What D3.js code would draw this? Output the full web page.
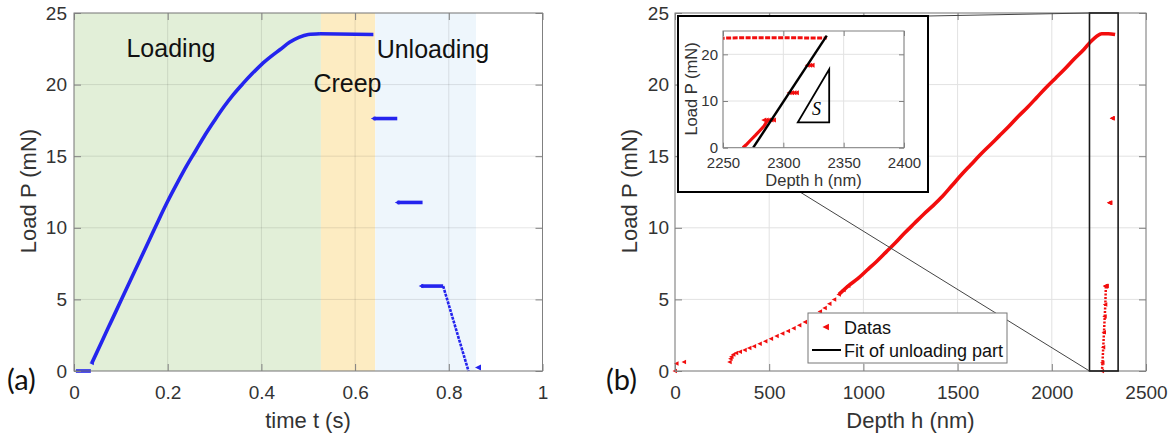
<!DOCTYPE html>
<html><head><meta charset="utf-8">
<script src="https://cdn.jsdelivr.net/npm/d3@7"></script>
<style>body{margin:0;background:#fff}</style>
</head><body><svg id="c" width="1174" height="438"></svg>
<script>
// ================= DATA =================
// Panel (a): load vs time
const xTicksA = [0, 0.2, 0.4, 0.6, 0.8, 1];
const xTickLabelsA = ["0", "0.2", "0.4", "0.6", "0.8", "1"];
const yTicks = [0, 5, 10, 15, 20, 25];
const yTickLabels = ["0", "5", "10", "15", "20", "25"];
const phaseNames = ["Loading", "Creep", "Unloading"];
const phaseStart = [0, 0.527, 0.643];
const phaseEnd = [0.527, 0.643, 0.858];
const phaseLabelT = [0.112, 0.511, 0.646];
const phaseLabelP = [21.9, 19.5, 21.85];

const timeInit = [0.004, 0.036];
const loadInit = [0, 0];
const timeLoading = [0.038, 0.06, 0.08, 0.10, 0.12, 0.14, 0.16, 0.18, 0.20, 0.22, 0.24, 0.26, 0.28, 0.30, 0.32, 0.34, 0.36, 0.38, 0.40, 0.42, 0.44, 0.46, 0.48, 0.50, 0.525];
const loadLoading = [0.55, 2.1, 3.5, 4.9, 6.3, 7.7, 9.1, 10.5, 11.85, 13.1, 14.3, 15.4, 16.5, 17.5, 18.45, 19.3, 20.05, 20.75, 21.4, 21.95, 22.45, 22.95, 23.3, 23.5, 23.55];
const timeCreep = [0.525, 0.639];
const loadCreep = [23.55, 23.5];
const timeHold1 = [0.639, 0.690];
const loadHold1 = [17.63, 17.63];
const timeHold2 = [0.690, 0.744];
const loadHold2 = [11.77, 11.77];
const timeHold3 = [0.741, 0.788];
const loadHold3 = [5.93, 5.93];
const timeUnload = [0.788, 0.842];
const loadUnload = [5.93, 0];
const timeTail = [0.863];
const loadTail = [0.25];

// Panel (b): load vs depth
const xTicksB = [0, 500, 1000, 1500, 2000, 2500];
const xTickLabelsB = ["0", "500", "1000", "1500", "2000", "2500"];
const depthOrigin = [0, 8, 48];
const loadOrigin = [0, 0.53, 0.63];
const depthSparse = [290, 295, 300, 310, 325, 345, 370, 395, 420, 450, 480, 510, 540, 570, 600, 630, 660, 690, 720, 745, 770, 795, 820, 845, 870, 895, 920];
const loadSparse = [0.62, 0.85, 1.0, 1.15, 1.25, 1.35, 1.47, 1.6, 1.73, 1.9, 2.07, 2.25, 2.44, 2.62, 2.8, 2.98, 3.2, 3.42, 3.68, 3.9, 4.15, 4.4, 4.7, 5.0, 5.35, 5.65, 5.95];
const depthDense = [870, 920, 970, 1020, 1070, 1120, 1170, 1220, 1270, 1320, 1370, 1420, 1470, 1520, 1570, 1620, 1670, 1720, 1770, 1820, 1870, 1920, 1970, 2020, 2070, 2120, 2170, 2210, 2240, 2265, 2300, 2336];
const loadDense = [5.35, 5.95, 6.45, 7.05, 7.65, 8.3, 8.95, 9.65, 10.3, 10.95, 11.55, 12.2, 12.95, 13.7, 14.4, 15.1, 15.75, 16.4, 17.05, 17.75, 18.4, 19.1, 19.8, 20.45, 21.1, 21.8, 22.45, 23.05, 23.4, 23.55, 23.55, 23.5];
const depthHolds = [2320, 2322, 2324, 2305, 2307, 2309, 2311, 2284, 2286, 2288, 2290, 2292];
const loadHolds = [17.65, 17.65, 17.65, 11.75, 11.75, 11.75, 11.75, 5.93, 5.93, 5.93, 5.93, 5.93];
const depthUnload = [2287, 2284, 2281, 2277, 2273, 2269, 2266.5];
const loadUnloadB = [5.9, 4.64, 3.8, 2.7, 1.65, 0.58, 0];
const fitDepth = [2275, 2336];
const fitLoad = [0, 24];
const zoomDepth = [2200, 2352];
const zoomLoad = [0, 25];
const insetXTicks = [2250, 2300, 2350, 2400];
const insetYTicks = [0, 10, 20];
const slopeDepth = [2312, 2338, 2338];
const slopeLoad = [5.44, 5.44, 16.8];
const legendLabels = ["Datas", "Fit of unloading part"];

// ================= DRAW =================
const FONT = '"Liberation Sans", Arial, Helvetica, sans-serif';
const AX = "#808080", TXT = "#333333", GRID = "#e2e2e2";
const BLUE = "#2424ee", RED = "#f20d0d";
const svg = d3.select("#c");
svg.append("rect").attr("width", 1174).attr("height", 438).attr("fill", "#fff");

function tri(s) { return `M${-s * 0.55},0L${s * 0.45},${-s * 0.5}L${s * 0.45},${s * 0.5}Z`; }
const pts = (a, b) => d3.zip(a, b);

function grid(g, x, y, xt, yt, color) {
  const [y0, y1] = y.range(), [x0, x1] = x.range();
  g.append("g").selectAll("line").data(xt).join("line")
    .attr("x1", d => x(d)).attr("x2", d => x(d)).attr("y1", y0).attr("y2", y1)
    .attr("stroke", color).attr("stroke-width", 1);
  g.append("g").selectAll("line").data(yt).join("line")
    .attr("y1", d => y(d)).attr("y2", d => y(d)).attr("x1", x0).attr("x2", x1)
    .attr("stroke", color).attr("stroke-width", 1);
}

function axes(g, x, y, xt, xl, yt, yl, o) {
  const [y0, y1] = y.range(), [x0, x1] = x.range();
  const style = (sel) => {
    sel.select(".domain").remove();
    sel.selectAll("line").attr("stroke", o.axColor);
    sel.selectAll("text").attr("font-size", o.fs).attr("fill", TXT).attr("font-family", FONT);
  };
  g.append("g").attr("transform", `translate(0,${y0})`)
    .call(d3.axisBottom(x).tickValues(xt).tickFormat((d, i) => xl[i]).tickSize(-o.tk).tickPadding(o.padX)).call(style);
  g.append("g").attr("transform", `translate(${x0},0)`)
    .call(d3.axisLeft(y).tickValues(yt).tickFormat((d, i) => yl[i]).tickSize(-o.tk).tickPadding(o.padY)).call(style);
  g.append("g").attr("transform", `translate(0,${y1})`)
    .call(d3.axisTop(x).tickValues(xt).tickFormat("").tickSize(-o.tk)).call(style);
  g.append("g").attr("transform", `translate(${x1},0)`)
    .call(d3.axisRight(y).tickValues(yt).tickFormat("").tickSize(-o.tk)).call(style);
  g.append("rect").attr("x", x0).attr("y", y1).attr("width", x1 - x0).attr("height", y0 - y1)
    .attr("fill", "none").attr("stroke", o.axColor).attr("stroke-width", 1);
}

// ---------- Panel (a) ----------
const xA = d3.scaleLinear().domain([0, 1]).range([74, 542.5]);
const yA = d3.scaleLinear().domain([0, 25]).range([371, 13]);
const gA = svg.append("g");
const phaseColors = ["#e2efd8", "#fdecc2", "#eef6fc"];
gA.append("g").selectAll("rect").data(phaseStart).join("rect")
  .attr("x", (d, i) => xA(d)).attr("width", (d, i) => xA(phaseEnd[i]) - xA(d))
  .attr("y", yA(25)).attr("height", yA(0) - yA(25)).attr("fill", (d, i) => phaseColors[i]);
grid(gA, xA, yA, xTicksA, yTicks, "rgba(0,0,0,0.10)");

const lineA = d3.line().x(d => xA(d[0])).y(d => yA(d[1])).curve(d3.curveMonotoneX);
const blueSegs = [[timeInit, loadInit], [timeLoading, loadLoading], [timeCreep, loadCreep],
  [timeHold1, loadHold1], [timeHold2, loadHold2], [timeHold3, loadHold3]];
blueSegs.forEach(([t, p]) => {
  gA.append("path").attr("d", lineA(pts(t, p))).attr("fill", "none")
    .attr("stroke", BLUE).attr("stroke-width", 3.6).attr("stroke-linecap", "butt");
});
gA.append("path").attr("d", lineA(pts(timeUnload, loadUnload))).attr("fill", "none")
  .attr("stroke", BLUE).attr("stroke-width", 2.6).attr("stroke-dasharray", "3,1");
[[timeHold1, loadHold1], [timeHold2, loadHold2], [timeHold3, loadHold3], [timeLoading, loadLoading]].forEach(([t, p]) => {
  gA.append("path").attr("d", tri(4.5)).attr("transform", `translate(${xA(t[0])},${yA(p[0])})`).attr("fill", BLUE);
});
gA.selectAll(".tail").data(pts(timeTail, loadTail)).join("path").attr("d", tri(6))
  .attr("transform", d => `translate(${xA(d[0])},${yA(d[1])})`).attr("fill", BLUE);

axes(gA, xA, yA, xTicksA, xTickLabelsA, yTicks, yTickLabels, { fs: 19, tk: 7, padX: 15, padY: 7, axColor: AX });

gA.selectAll(".ph").data(phaseNames).join("text")
  .attr("x", (d, i) => xA(phaseLabelT[i])).attr("y", (d, i) => yA(phaseLabelP[i]))
  .attr("font-family", FONT).attr("font-size", 25).attr("fill", "#111").text(d => d);

gA.append("text").attr("x", 308).attr("y", 428).attr("text-anchor", "middle")
  .attr("font-family", FONT).attr("font-size", 22).attr("fill", TXT).text("time t (s)");
gA.append("text").attr("transform", "translate(36,191) rotate(-90)").attr("text-anchor", "middle")
  .attr("font-family", FONT).attr("font-size", 22).attr("fill", TXT).text("Load P (mN)");
gA.append("text").attr("x", 7).attr("y", 390).attr("font-family", "Lato, 'Open Sans', sans-serif")
  .attr("font-size", 29).attr("fill", "#111").text("(a)");

// ---------- Panel (b) ----------
const xB = d3.scaleLinear().domain([0, 2500]).range([675, 1146]);
const yB = d3.scaleLinear().domain([0, 25]).range([371, 13]);
const gB = svg.append("g");
grid(gB, xB, yB, xTicksB, yTicks, GRID);

const lineB = d3.line().x(d => xB(d[0])).y(d => yB(d[1])).curve(d3.curveMonotoneX);
gB.append("path").attr("d", lineB(pts(depthDense, loadDense))).attr("fill", "none")
  .attr("stroke", RED).attr("stroke-width", 3.6).attr("stroke-linejoin", "round");
const markerSets = [[depthOrigin, loadOrigin], [depthSparse, loadSparse], [depthHolds, loadHolds], [depthUnload, loadUnloadB]];
markerSets.forEach(([h, p]) => {
  gB.append("g").selectAll("path").data(pts(h, p)).join("path").attr("d", tri(4.5))
    .attr("transform", d => `translate(${xB(d[0])},${yB(d[1])})`).attr("fill", RED);
});
gB.append("path").attr("d", d3.line().x(d => xB(d[0])).y(d => yB(d[1]))(pts(depthUnload, loadUnloadB))).attr("fill", "none")
  .attr("stroke", RED).attr("stroke-width", 2.5).attr("stroke-dasharray", "2,1.5");

axes(gB, xB, yB, xTicksB, xTickLabelsB, yTicks, yTickLabels, { fs: 19, tk: 7, padX: 15, padY: 6, axColor: AX });

// zoom rectangle
gB.append("rect").attr("x", xB(zoomDepth[0])).attr("y", yB(zoomLoad[1]))
  .attr("width", xB(zoomDepth[1]) - xB(zoomDepth[0])).attr("height", yB(zoomLoad[0]) - yB(zoomLoad[1]))
  .attr("fill", "none").attr("stroke", "#1a1a1a").attr("stroke-width", 1.6);

// inset box layout
const inBox = { x0: 678, y0: 16, x1: 928, y1: 192 };
gB.append("line").attr("x1", inBox.x1).attr("y1", inBox.y0).attr("x2", xB(zoomDepth[0])).attr("y2", yB(zoomLoad[1]))
  .attr("stroke", "#444").attr("stroke-width", 1);
gB.append("line").attr("x1", 800).attr("y1", inBox.y1).attr("x2", xB(zoomDepth[0])).attr("y2", yB(zoomLoad[0]))
  .attr("stroke", "#444").attr("stroke-width", 1);

// legend
const lg = gB.append("g");
lg.append("rect").attr("x", 808).attr("y", 313).attr("width", 199).attr("height", 50)
  .attr("fill", "#fff").attr("stroke", "#777").attr("stroke-width", 1);
lg.append("path").attr("d", tri(6.5)).attr("transform", "translate(826,327)").attr("fill", RED);
lg.append("line").attr("x1", 812).attr("x2", 841).attr("y1", 350).attr("y2", 350).attr("stroke", "#000").attr("stroke-width", 2);
lg.selectAll("text").data(legendLabels).join("text").attr("x", 844).attr("y", (d, i) => 334 + i * 23)
  .attr("font-family", FONT).attr("font-size", 18).attr("fill", "#111").text(d => d);

// inset
const gI = svg.append("g");
gI.append("rect").attr("x", inBox.x0).attr("y", inBox.y0).attr("width", inBox.x1 - inBox.x0).attr("height", inBox.y1 - inBox.y0)
  .attr("fill", "#fff").attr("stroke", "#000").attr("stroke-width", 2);
const xI = d3.scaleLinear().domain([2250, 2400]).range([723, 904]);
const yI = d3.scaleLinear().domain([0, 25]).range([147.7, 31]);
grid(gI, xI, yI, insetXTicks, insetYTicks, GRID);
svg.append("defs").append("clipPath").attr("id", "clipI").append("rect")
  .attr("x", 723).attr("y", 31).attr("width", 181).attr("height", 116.7);
const gID = gI.append("g").attr("clip-path", "url(#clipI)");
const lineI = d3.line().x(d => xI(d[0])).y(d => yI(d[1]));
gID.append("path").attr("d", lineI(pts(depthDense, loadDense))).attr("fill", "none")
  .attr("stroke", RED).attr("stroke-width", 3).attr("stroke-dasharray", "5,1.5");
gID.append("path").attr("d", lineI(pts(depthUnload, loadUnloadB))).attr("fill", "none")
  .attr("stroke", RED).attr("stroke-width", 3.2);
gID.append("g").selectAll("path").data(pts(depthHolds, loadHolds)).join("path").attr("d", tri(5))
  .attr("transform", d => `translate(${xI(d[0])},${yI(d[1])})`).attr("fill", RED);
gID.append("path").attr("d", lineI(pts(fitDepth, fitLoad))).attr("fill", "none")
  .attr("stroke", "#000").attr("stroke-width", 2.4);
gI.append("path").attr("d", lineI(pts(slopeDepth, slopeLoad)) + "Z").attr("fill", "none")
  .attr("stroke", "#000").attr("stroke-width", 1.8);
gI.append("text").attr("x", xI(2327.5)).attr("y", yI(6.9)).attr("text-anchor", "middle")
  .attr("font-family", "'Liberation Serif', 'DejaVu Serif', serif").attr("font-style", "italic")
  .attr("font-size", 18).attr("fill", "#000").text("S");
axes(gI, xI, yI, insetXTicks, insetXTicks.map(String), insetYTicks, insetYTicks.map(String),
  { fs: 15, tk: 5, padX: 10, padY: 5, axColor: AX });
gI.append("text").attr("x", 813.5).attr("y", 186).attr("text-anchor", "middle")
  .attr("font-family", FONT).attr("font-size", 16.5).attr("fill", TXT).text("Depth h (nm)");
gI.append("text").attr("transform", "translate(697,89) rotate(-90)").attr("text-anchor", "middle")
  .attr("font-family", FONT).attr("font-size", 16.5).attr("fill", TXT).text("Load P (mN)");

gB.append("text").attr("transform", "translate(637,191) rotate(-90)")
  .attr("text-anchor", "middle").attr("font-family", FONT).attr("font-size", 22).attr("fill", TXT).text("Load P (mN)");
gB.append("text").attr("x", 910.5).attr("y", 428).attr("text-anchor", "middle")
  .attr("font-family", FONT).attr("font-size", 22).attr("fill", TXT).text("Depth h (nm)");
gB.append("text").attr("x", 606).attr("y", 390).attr("font-family", "Lato, 'Open Sans', sans-serif")
  .attr("font-size", 29).attr("fill", "#111").text("(b)");
</script></body></html>
